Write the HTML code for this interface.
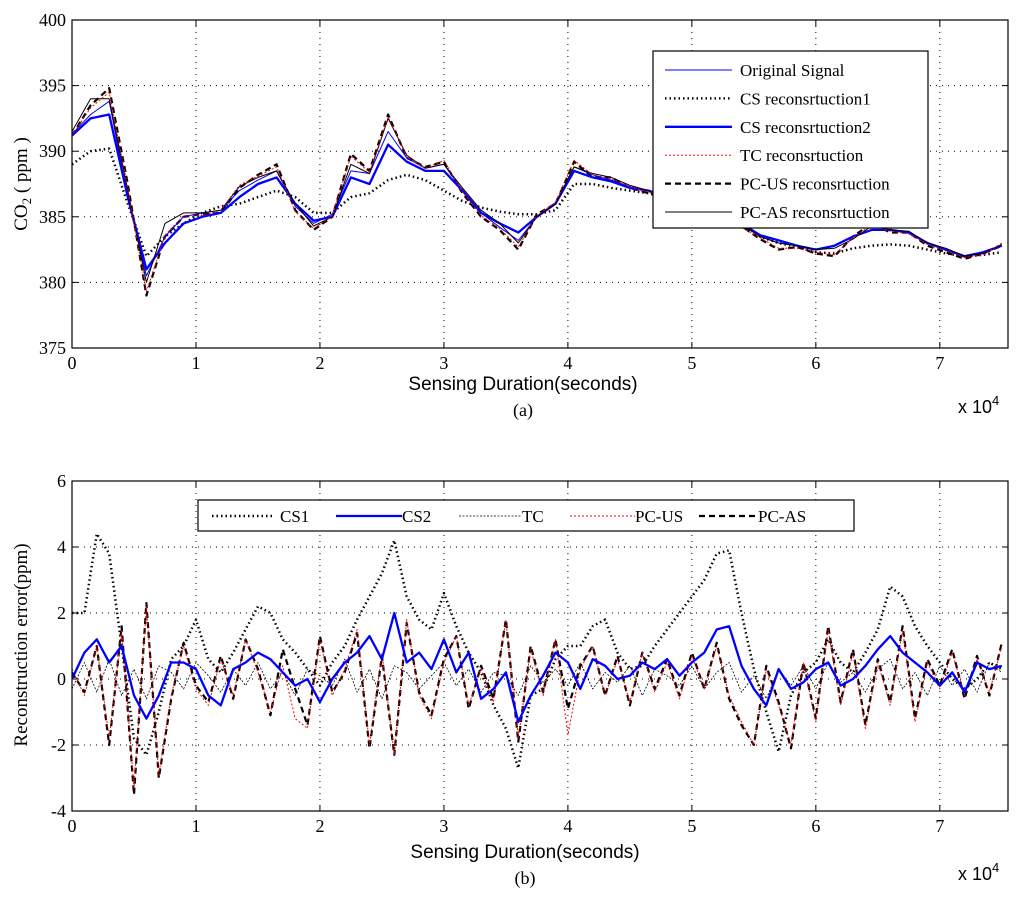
<!DOCTYPE html>
<html><head><meta charset="utf-8"><style>
html,body{margin:0;padding:0;background:#fff;}
svg{display:block;}
text{font-family:"Liberation Serif",serif;fill:#000;}
.sans{font-family:"Liberation Sans",sans-serif;}
</style></head><body>
<svg id="chart" width="1024" height="901" viewBox="0 0 1024 901" xmlns="http://www.w3.org/2000/svg"></svg>
<script>
// ---------- data ----------
const xTicks = [0,1,2,3,4,5,6,7];
const topYTicks = [375,380,385,390,395,400];
const botYTicks = [-4,-2,0,2,4,6];
const topStep = 1500; // seconds per sample
const original = [391.3,392.8,393.8,386.5,380.5,383.5,385,385.3,385.5,387,387.8,388.5,385.8,384.5,385.2,388.5,388.3,391.5,389.5,388.7,389,387,385.3,384.2,383.2,385,386,388.8,388.2,387.8,387.3,387,386.5,386,385.3,385,384.5,383.5,383,382.8,382.5,382.8,383.5,384,384,383.8,383,382.5,382,382.2,382.8];
const cs1Recon = [389,390,390.2,386,382,383.5,384.5,385.3,385.8,386,386.5,387,386.5,385.3,385.3,386.5,386.8,387.8,388.2,387.8,387,386.2,385.7,385.4,385.2,385.2,385.5,387.5,387.5,387.2,387,386.8,386.5,386.2,385.8,385.3,384.5,383.5,383,382.7,382.3,382.2,382.6,382.8,382.9,382.8,382.5,382.2,382,382.1,382.3];
const cs2Recon = [391.2,392.5,392.8,386.5,381,383,384.5,385,385.3,386.5,387.5,388,386,384.7,385,388,387.5,390.5,389.2,388.5,388.5,387,385.3,384.5,383.8,385,386,388.5,388,387.7,387.2,387,386.5,386,385.4,385,384.5,383.6,383.2,382.8,382.5,382.8,383.5,384,384,383.8,383,382.5,382,382.3,382.8];
const tcRecon = [391.2,393.3,394.5,387.2,379.3,383.6,385.1,385.1,385.5,387.4,388.1,388.8,385.4,384.1,385.1,389.6,388.4,392.6,389.6,388.7,389.3,386.9,385.1,384.1,382.7,385.1,386.1,389.3,388.2,387.9,387.3,386.9,386.2,385.9,385.3,384.9,384.2,383.4,382.6,382.6,382.3,382.1,383.4,384.4,383.9,383.7,382.9,382.4,381.9,382.1,383];
const pcusRecon = [391.2,393.5,394.8,387.5,379,383.5,385,385.2,385.3,387.2,388.2,389,385.5,384,385,389.8,388.5,392.8,389.5,388.8,389.2,386.8,385,384,382.5,385.2,386,389.2,388,388,387.2,386.8,386.3,386,385.2,384.8,384.3,383.3,382.5,382.7,382.2,382,383.5,384.5,383.8,383.8,382.8,382.3,381.8,382.2,382.8];
const pcasRecon = [391.5,394,394,387,380,384.5,385.3,385.3,385.5,387.3,388,388.5,386,384.3,385,389,388.3,392.5,389.7,388.7,389,387.2,385.5,384.5,383,385,386,388.8,388.3,388,387.4,387,386.4,386,385.4,385,384.4,383.5,383,382.8,382.5,382.6,383.3,384.3,384,383.9,383,382.6,382,382.2,382.9];
const errStep = 1000;
const errCS1 = [2.0,2.0,4.4,3.8,1.0,-1.8,-2.3,-1.0,0.6,1.0,1.8,0.6,0.2,0.8,1.5,2.2,2.0,1.2,0.8,0.3,-0.2,0.5,1.0,1.8,2.5,3.2,4.2,2.5,1.8,1.5,2.6,1.6,0.8,0.2,-0.8,-1.5,-2.7,-0.5,-0.3,0.6,1.0,1.0,1.6,1.8,0.8,0.3,0.4,1.0,1.5,2.0,2.5,3.0,3.8,3.9,2.0,0.3,-1.0,-2.2,-0.5,0.2,0.5,1.2,0.5,0.2,0.8,1.5,2.8,2.5,1.6,1.0,0.5,0.0,-0.3,0.0,0.5,0.3];
const errCS2 = [0,0.8,1.2,0.5,1.0,-0.5,-1.2,-0.5,0.5,0.5,0.3,-0.5,-0.8,0.3,0.5,0.8,0.6,0.2,-0.2,0,-0.7,0,0.5,0.8,1.3,0.6,2.0,0.5,0.8,0.3,1.2,0.2,0.8,-0.6,-0.3,0.2,-1.3,-0.5,0.1,0.8,0.5,-0.3,0.6,0.4,0.0,0.1,0.5,0.3,0.6,0.1,0.5,0.8,1.5,1.6,0.4,-0.3,-0.8,0.3,-0.3,-0.1,0.3,0.5,-0.2,0,0.4,0.9,1.3,0.8,0.5,0.2,-0.2,0.2,-0.4,0.5,0.3,0.4];
const errTC = [-0.3,0.5,-0.4,0.6,-0.5,0.3,-0.6,0.4,0.2,-0.3,0.5,0.1,-0.4,0.3,-0.2,0.5,-0.3,0.2,-0.5,0.3,0.1,-0.2,0.6,-0.4,0.3,-0.6,0.4,0.2,-0.3,0.1,0.5,-0.2,0.3,-0.4,0.2,0.1,-0.5,0.4,-0.1,0.3,-0.2,0.5,-0.3,0.2,-0.1,0.4,-0.5,0.3,0.1,-0.2,0.4,-0.3,0.2,0.5,-0.4,0.1,-0.6,0.3,-0.2,0.4,-0.3,0.5,-0.1,0.2,-0.4,0.3,0.6,-0.3,0.2,-0.5,0.4,-0.2,0.3,-0.4,0.5,0.2];
const errPCUS = [0.3,-0.5,1.0,-1.8,1.5,-3.3,2.2,-2.9,-0.5,1.0,-0.3,-0.8,0.6,-0.5,1.2,0.2,-1.0,0.4,-1.2,-1.5,1.2,-0.5,0.3,1.5,-2.0,0.8,-2.3,1.8,-0.5,-1.2,0.5,1.3,-0.8,0.3,-0.7,1.8,-1.8,0.9,-0.5,1.2,-1.7,0.3,1.0,-0.5,0.6,-0.7,0.8,-0.4,0.5,-0.6,0.7,-0.3,1.0,-0.5,-1.3,-2.0,0.3,-0.8,-2.0,0.5,-1.3,1.5,-0.8,0.8,-1.5,0.5,-0.8,1.5,-1.3,0.5,-0.3,0.8,-0.5,0.6,-0.4,1.0];
const errPCAS = [0.2,-0.4,1.0,-2.0,1.6,-3.5,2.3,-3.0,-0.6,1.1,-0.2,-0.7,0.7,-0.6,1.2,0.3,-1.1,0.9,-0.3,-1.4,1.3,-0.4,0.2,1.4,-2.1,0.7,-2.3,1.7,-0.4,-1.1,0.6,1.3,-0.9,0.4,-0.6,1.8,-1.9,1.0,-0.4,1.2,-0.9,0.4,1.0,-0.5,0.7,-0.8,0.8,-0.3,0.6,-0.5,0.8,-0.3,1.1,-0.6,-1.4,-2.0,0.4,-0.7,-2.1,0.5,-1.2,1.6,-0.7,0.9,-1.4,0.6,-0.7,1.6,-1.2,0.6,-0.2,0.9,-0.6,0.7,-0.5,1.1];

// ---------- layout ----------
const NS = "http://www.w3.org/2000/svg";
const svg = document.getElementById('chart');
const X0 = 72, X1 = 1008, XMAX = 75500;
const xs = t => X0 + (t/XMAX)*(X1-X0);
function mk(tag, attrs, parent){
  const e = document.createElementNS(NS, tag);
  for (const k in attrs) e.setAttribute(k, attrs[k]);
  (parent||svg).appendChild(e);
  return e;
}
function txt(s, x, y, size, anchor, parent, cls){
  const t = mk('text', {x:x, y:y, 'font-size':size, 'text-anchor':anchor||'middle'}, parent);
  if (cls) t.setAttribute('class', cls);
  t.textContent = s;
  return t;
}

function axes(name, top, bot, ymin, ymax, yTicks){
  const g = mk('g', {});
  
  
  const ys = v => bot - (v-ymin)/(ymax-ymin)*(bot-top);
  const grid = mk('g', {stroke:'#000','stroke-width':1,'stroke-dasharray':'1 5'}, g);
  
  
  xTicks.forEach(v => { const x = xs(v*10000); if (v>0) mk('line',{x1:x,x2:x,y1:top,y2:bot},grid); });
  yTicks.forEach(v => { const y = ys(v); if (v>ymin && v<ymax) mk('line',{x1:X0,x2:X1,y1:y,y2:y},grid); });
  const tk = mk('g', {stroke:'#000','stroke-width':1}, g);
  xTicks.forEach(v => { const x = xs(v*10000);
    mk('line',{x1:x,x2:x,y1:bot,y2:bot-6},tk); mk('line',{x1:x,x2:x,y1:top,y2:top+6},tk);
    const l = txt(String(v), x, bot+21, 18, 'middle', g);
    
    
  });
  yTicks.forEach(v => { const y = ys(v);
    mk('line',{x1:X0,x2:X0+6,y1:y,y2:y},tk); mk('line',{x1:X1,x2:X1-6,y1:y,y2:y},tk);
    const l = txt(String(v), X0-6, y+6, 18, 'end', g);
    
    
  });
  return {g, ys};
}
function series(name, arr, step, ys, style, parent){
  const d = arr.map((v,i)=> (i?'L':'M') + xs(i*step).toFixed(1) + ' ' + ys(v).toFixed(1)).join(' ');
  const p = mk('path', Object.assign({d:d, fill:'none','stroke-linejoin':'round'}, style), parent);
  
  
  return p;
}

// ---------- top plot ----------
const T0=20, T1=348;
const A = axes('top-axes', T0, T1, 375, 400, topYTicks);
const clipT = mk('clipPath',{id:'ct'}); mk('rect',{x:X0,y:T0,width:X1-X0,height:T1-T0},clipT);
const gT = mk('g',{'clip-path':'url(#ct)'});


const S = {
  orig:{stroke:'#0000ff','stroke-width':1},
  cs1:{stroke:'#000','stroke-width':2.5,'stroke-dasharray':'1.5 3'},
  cs2:{stroke:'#0000ff','stroke-width':2.3},
  tc:{stroke:'#ff0000','stroke-width':1,'stroke-dasharray':'2 2'},
  pcus:{stroke:'#000','stroke-width':2.2,'stroke-dasharray':'6 4'},
  pcas:{stroke:'#000','stroke-width':1}
};
series('cs1-reconstruction-line', cs1Recon, topStep, A.ys, S.cs1, gT);
series('pcus-reconstruction-line', pcusRecon, topStep, A.ys, S.pcus, gT);
series('cs2-reconstruction-line', cs2Recon, topStep, A.ys, S.cs2, gT);
series('original-signal-line', original, topStep, A.ys, S.orig, gT);
series('pcas-reconstruction-line', pcasRecon, topStep, A.ys, S.pcas, gT);
series('tc-reconstruction-line', tcRecon, topStep, A.ys, S.tc, gT);
mk('rect',{x:X0,y:T0,width:X1-X0,height:T1-T0,fill:'none',stroke:'#000','stroke-width':1.2});

// top legend
const lg = mk('g',{});


mk('rect',{x:653,y:51,width:275,height:177,fill:'#fff',stroke:'#000','stroke-width':1.2},lg);
const topLeg = [['Original Signal',S.orig],['CS reconsrtuction1',S.cs1],['CS reconsrtuction2',S.cs2],['TC reconsrtuction',S.tc],['PC-US reconsrtuction',S.pcus],['PC-AS reconsrtuction',S.pcas]];
topLeg.forEach((e,i)=>{
  const y = 70 + i*28.4;
  const it = mk('g',{},lg);
  
  
  mk('line',Object.assign({x1:665,x2:732,y1:y,y2:y},e[1]),it);
  txt(e[0], 740, y+6, 17, 'start', it);
});

let t;
t = txt('Sensing Duration(seconds)', 523, 390, 19, 'middle', svg, 'sans');
 
t = txt('(a)', 523, 416, 18, 'middle');
 
t = mk('text',{x:958,y:413,'font-size':18,'class':'sans'});
t.innerHTML = 'x 10<tspan dy="-8" font-size="13">4</tspan>';
 
t = mk('text',{x:0,y:0,'font-size':19,'text-anchor':'middle',transform:'translate(27 184) rotate(-90)'});
t.innerHTML = 'CO<tspan font-size="13" dy="4">2</tspan><tspan dy="-4"> ( ppm )</tspan>';
 

// ---------- bottom plot ----------
const B0=481, B1=811;
const B = axes('bottom-axes', B0, B1, -4, 6, botYTicks);
const clipB = mk('clipPath',{id:'cb'}); mk('rect',{x:X0,y:B0,width:X1-X0,height:B1-B0},clipB);
const gB = mk('g',{'clip-path':'url(#cb)'});


const E = {
  cs1:{stroke:'#000','stroke-width':2.5,'stroke-dasharray':'1.5 3'},
  cs2:{stroke:'#0000ff','stroke-width':2.3},
  tc:{stroke:'#000','stroke-width':0.8,'stroke-dasharray':'2 1.5'},
  pcus:{stroke:'#ff0000','stroke-width':1,'stroke-dasharray':'2 2'},
  pcas:{stroke:'#000','stroke-width':2.2,'stroke-dasharray':'6 4'}
};
series('cs1-error-line', errCS1, errStep, B.ys, E.cs1, gB);
series('tc-error-line', errTC, errStep, B.ys, E.tc, gB);
series('pcas-error-line', errPCAS, errStep, B.ys, E.pcas, gB);
series('pcus-error-line', errPCUS, errStep, B.ys, E.pcus, gB);
series('cs2-error-line', errCS2, errStep, B.ys, E.cs2, gB);
mk('rect',{x:X0,y:B0,width:X1-X0,height:B1-B0,fill:'none',stroke:'#000','stroke-width':1.2});

const lb = mk('g',{});


mk('rect',{x:198,y:500,width:656,height:31,fill:'#fff',stroke:'#000','stroke-width':1.2},lb);
const botLeg = [['CS1',E.cs1,212,275,280],['CS2',E.cs2,336,402,402],['TC',E.tc,459,522,522],['PC-US',E.pcus,570,635,635],['PC-AS',E.pcas,699,758,758]];
botLeg.forEach(e=>{
  const it = mk('g',{},lb);
  
  
  mk('line',Object.assign({x1:e[2],x2:e[3],y1:516,y2:516},e[1]),it);
  txt(e[0], e[4], 522, 17, 'start', it);
});

t = txt('Sensing Duration(seconds)', 525, 858, 19, 'middle', svg, 'sans');
 
t = txt('(b)', 525, 884, 18, 'middle');
 
t = mk('text',{x:958,y:880,'font-size':18,'class':'sans'});
t.innerHTML = 'x 10<tspan dy="-8" font-size="13">4</tspan>';
 
t = txt('Reconstruction error(ppm)', 0, 0, 19, 'middle');
t.setAttribute('transform','translate(27 645) rotate(-90)');
 
</script>
</body></html>
